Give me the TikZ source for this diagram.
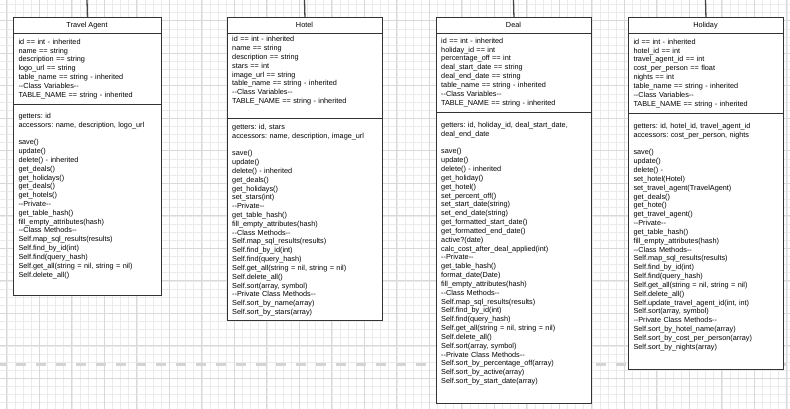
\documentclass[tikz,border=0pt]{standalone}
\usepackage{fontspec}
\setmainfont{Liberation Sans}
\frenchspacing
\newcommand{\twodash}{-{}-}
\tikzset{
  classbox/.style={draw=black!80, fill=white, line width=0.9pt, inner sep=0pt, anchor=north west},
  classtitle/.style={font=\fontsize{7.3}{8.83}\selectfont, anchor=base, inner sep=0pt},
  classbody/.style={font=\fontsize{7.3}{8.83}\selectfont, anchor=base west, inner sep=0pt, align=left, text width=220pt},
  sepline/.style={draw=black!80, line width=0.9pt},
  link/.style={draw=black!72, line width=1.3pt},
  minorgrid/.style={draw=black!8, line width=0.6pt},
  majorgrid/.style={draw=black!15, line width=0.7pt},
  guide/.style={draw=black!17, line width=2.5pt, dash pattern=on 10pt off 10pt, dash phase=4pt}
}
\begin{document}
\begin{tikzpicture}[x=1pt,y=-1pt]
\useasboundingbox (0,0) rectangle (790,409);
\fill[white] (0,0) rectangle (790,409);
% grid
\foreach \i in {0,...,96} { \draw[minorgrid] ({6.8+8.125*\i},0) -- ({6.8+8.125*\i},409); }
\foreach \j in {0,...,49} { \draw[minorgrid] (0,{4.55+8.125*\j}) -- (790,{4.55+8.125*\j}); }
\foreach \i in {0,...,24} { \draw[majorgrid] ({6.8+32.5*\i},0) -- ({6.8+32.5*\i},409); }
\foreach \j in {0,...,11} { \draw[majorgrid] (0,{20.8+32.5*\j}) -- (790,{20.8+32.5*\j}); }
% dashed guide
\coordinate (guide-l) at (0,364.3);
\coordinate (guide-r) at (790,364.3);
\draw[guide] (guide-l) -- (guide-r);

% ---------------- Travel Agent
\node[classbox, minimum width=148pt, minimum height=278pt] (ta) at (13,17) {};
\draw[sepline] (ta.west |- 0,33) -- (ta.east |- 0,33);
\draw[sepline] (ta.west |- 0,104.3) -- (ta.east |- 0,104.3);
\node[classtitle] (ta-title) at (87,27.3) {Travel Agent};
\node[classbody] (ta-attr) at (18.3,44.2) {id == int - inherited\\
name == string\\
description == string\\
logo\_url == string\\
table\_name == string - inherited\\
\twodash Class Variables\twodash\\
TABLE\_NAME == string - inherited};
\node[classbody] (ta-meth) at (18.3,118.2) {getters: id\\
accessors: name, description, logo\_url\\[8.83pt]
save()\\
update()\\
delete() - inherited\\
get\_deals()\\
get\_holidays()\\
get\_deals()\\
get\_hotels()\\
\twodash Private\twodash\\
get\_table\_hash()\\
fill\_empty\_attributes(hash)\\
\twodash Class Methods\twodash\\
Self.map\_sql\_results(results)\\
Self.find\_by\_id(int)\\
Self.find(query\_hash)\\
Self.get\_all(string = nil, string = nil)\\
Self.delete\_all()};

% ---------------- Hotel
\node[classbox, minimum width=155pt, minimum height=303pt] (ho) at (227,17) {};
\draw[sepline] (ho.west |- 0,33) -- (ho.east |- 0,33);
\draw[sepline] (ho.west |- 0,118.3) -- (ho.east |- 0,118.3);
\node[classtitle] (ho-title) at (304.5,27.3) {Hotel};
\node[classbody] (ho-attr) at (232,41.8) {id == int - inherited\\
name == string\\
description == string\\
stars == int\\
image\_url == string\\
table\_name == string - inherited\\
\twodash Class Variables\twodash\\
TABLE\_NAME == string - inherited};
\node[classbody] (ho-meth) at (232,129.2) {getters: id, stars\\
accessors: name, description, image\_url\\[8.83pt]
save()\\
update()\\
delete() - inherited\\
get\_deals()\\
get\_holidays()\\
set\_stars(int)\\
\twodash Private\twodash\\
get\_table\_hash()\\
fill\_empty\_attributes(hash)\\
\twodash Class Methods\twodash\\
Self.map\_sql\_results(results)\\
Self.find\_by\_id(int)\\
Self.find(query\_hash)\\
Self.get\_all(string = nil, string = nil)\\
Self.delete\_all()\\
Self.sort(array, symbol)\\
\twodash Private Class Methods\twodash\\
Self.sort\_by\_name(array)\\
Self.sort\_by\_stars(array)};

% ---------------- Deal
\node[classbox, minimum width=155pt, minimum height=386pt] (de) at (436,17) {};
\draw[sepline] (de.west |- 0,33) -- (de.east |- 0,33);
\draw[sepline] (de.west |- 0,112.3) -- (de.east |- 0,112.3);
\node[classtitle] (de-title) at (513.5,27.3) {Deal};
\node[classbody] (de-attr) at (441,43.2) {id == int - inherited\\
holiday\_id == int\\
percentage\_off == int\\
deal\_start\_date == string\\
deal\_end\_date == string\\
table\_name == string - inherited\\
\twodash Class Variables\twodash\\
TABLE\_NAME == string - inherited};
\node[classbody] (de-meth) at (441,127.5) {getters: id, holiday\_id, deal\_start\_date,\\
deal\_end\_date\\[8.83pt]
save()\\
update()\\
delete() - inherited\\
get\_holiday()\\
get\_hotel()\\
set\_percent\_off()\\
set\_start\_date(string)\\
set\_end\_date(string)\\
get\_formatted\_start\_date()\\
get\_formatted\_end\_date()\\
active?(date)\\
calc\_cost\_after\_deal\_applied(int)\\
\twodash Private\twodash\\
get\_table\_hash()\\
format\_date(Date)\\
fill\_empty\_attributes(hash)\\
\twodash Class Methods\twodash\\
Self.map\_sql\_results(results)\\
Self.find\_by\_id(int)\\
Self.find(query\_hash)\\
Self.get\_all(string = nil, string = nil)\\
Self.delete\_all()\\
Self.sort(array, symbol)\\
\twodash Private Class Methods\twodash\\
Self.sort\_by\_percentage\_off(array)\\
Self.sort\_by\_active(array)\\
Self.sort\_by\_start\_date(array)};

% ---------------- Holiday
\node[classbox, minimum width=155pt, minimum height=352pt] (hl) at (628,17) {};
\draw[sepline] (hl.west |- 0,33) -- (hl.east |- 0,33);
\draw[sepline] (hl.west |- 0,113.3) -- (hl.east |- 0,113.3);
\node[classtitle] (hl-title) at (705.5,27.3) {Holiday};
\node[classbody] (hl-attr) at (633.3,44.2) {id == int - inherited\\
hotel\_id == int\\
travel\_agent\_id == int\\
cost\_per\_person == float\\
nights == int\\
table\_name == string - inherited\\
\twodash Class Variables\twodash\\
TABLE\_NAME == string - inherited};
\node[classbody] (hl-meth) at (633.3,128.5) {getters: id, hotel\_id, travel\_agent\_id\\
accessors: cost\_per\_person, nights\\[8.83pt]
save()\\
update()\\
delete() -\\
set\_hotel(Hotel)\\
set\_travel\_agent(TravelAgent)\\
get\_deals()\\
get\_hote()\\
get\_travel\_agent()\\
\twodash Private\twodash\\
get\_table\_hash()\\
fill\_empty\_attributes(hash)\\
\twodash Class Methods\twodash\\
Self.map\_sql\_results(results)\\
Self.find\_by\_id(int)\\
Self.find(query\_hash)\\
Self.get\_all(string = nil, string = nil)\\
Self.delete\_all()\\
Self.update\_travel\_agent\_id(int, int)\\
Self.sort(array, symbol)\\
\twodash Private Class Methods\twodash\\
Self.sort\_by\_hotel\_name(array)\\
Self.sort\_by\_cost\_per\_person(array)\\
Self.sort\_by\_nights(array)};

% incoming connectors from above
\coordinate (ta-in) at (87,0);
\coordinate (ho-in) at (304.5,0);
\coordinate (de-in) at (513.5,0);
\coordinate (hl-in) at (705.5,0);
\draw[link] (ta-in) -- (ta.north);
\draw[link] (ho-in) -- (ho.north);
\draw[link] (de-in) -- (de.north);
\draw[link] (hl-in) -- (hl.north);
\end{tikzpicture}
\end{document}
